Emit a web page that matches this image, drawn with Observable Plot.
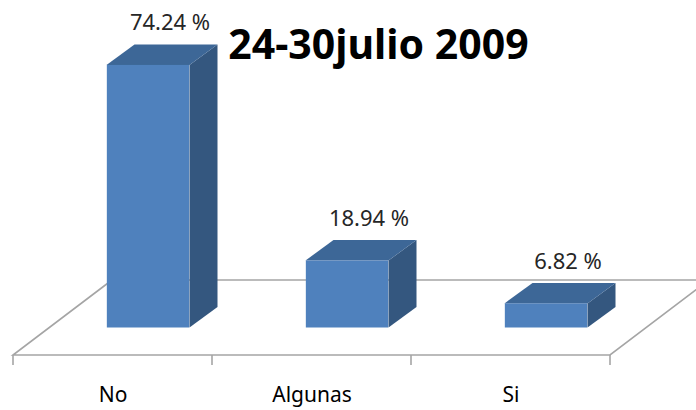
<!DOCTYPE html>
<html><head><meta charset="utf-8">
<script src="https://cdn.jsdelivr.net/npm/d3@7"></script>
<script src="https://cdn.jsdelivr.net/npm/@observablehq/plot@0.6"></script>
<style>body{margin:0;background:#fff}</style>
</head><body><div id="chart"></div>
<script>
const categories = ["No", "Algunas", "Si"];
const values = [74.24, 18.94, 6.82];
const valueLabels = ["74.24 %", "18.94 %", "6.82 %"];
const title = "24-30julio 2009";

const data = categories.map((c, i) => ({cat: c, value: values[i], label: valueLabels[i]}));

const FRONT = "#4F81BD", TOP = "#3D6797", SIDE = "#34577F", FLOOR = "#A5A5A5";
const barW = 83, barDx = 35.5, depthX = 28, depthY = 20.5;
const floorDrop = 27.5, floorDX = 99, floorDY = 75;
const FONT = "Noto Sans";

function bw(x) { return typeof x.bandwidth === "function" ? x.bandwidth() : x.bandwidth; }

function floorMark(index, scales) {
  const x = scales.x, y = scales.y, b = bw(x);
  const x0 = x(categories[0]);
  const x1 = x(categories[categories.length - 1]) + b;
  const yf = y(0) + floorDrop;
  const g = d3.create("svg:g").attr("fill", "none").attr("stroke", FLOOR).attr("stroke-width", 1.6);
  g.append("path").attr("d",
    `M${x0 + floorDX},${yf - floorDY}L${x0},${yf}L${x1},${yf}L${x1 + floorDX},${yf - floorDY}` +
    `M${x0 + floorDX},${yf - floorDY}L${x1 + floorDX},${yf - floorDY}`);
  const bounds = categories.map(c => x(c)).concat([x1]);
  for (const bx of bounds) g.append("line").attr("x1", bx).attr("x2", bx).attr("y1", yf).attr("y2", yf + 10);
  return g.node();
}

function depthMark(index, scales) {
  const x = scales.x, y = scales.y, b = bw(x);
  const g = d3.create("svg:g");
  for (const d of data) {
    const l = x(d.cat) + b / 2 + barDx - barW / 2, r = l + barW, t = y(d.value), bt = y(0);
    g.append("path").attr("fill", SIDE)
      .attr("d", `M${r},${bt}L${r + depthX},${bt - depthY}L${r + depthX},${t - depthY}L${r},${t}Z`);
    g.append("path").attr("fill", TOP)
      .attr("d", `M${l},${t}L${l + depthX},${t - depthY}L${r + depthX},${t - depthY}L${r},${t}Z`);
  }
  return g.node();
}

const bandW = (611 - 12) / categories.length;
const inset = (bandW - barW) / 2;

const chart = Plot.plot({
  width: 696,
  height: 410,
  marginLeft: 12,
  marginRight: 85,
  marginTop: 0,
  marginBottom: 82.5,
  style: {fontFamily: FONT, background: "#fff"},
  x: {type: "band", domain: categories, padding: 0, axis: null},
  y: {domain: [0, 92.6], axis: null},
  marks: [
    floorMark,
    depthMark,
    Plot.barY(data, {x: "cat", y: "value", fill: FRONT, insetLeft: inset, insetRight: inset, dx: barDx}),
    Plot.text(data, {x: "cat", y: "value", text: "label", dx: 57, dy: -35, lineAnchor: "bottom",
      fontSize: 22, fill: "#262626", fontFamily: FONT}),
    Plot.text(categories, {x: d => d, text: d => d, frameAnchor: "bottom", dy: 73.5, lineAnchor: "bottom",
      fontSize: 21, fill: "#000", fontFamily: FONT}),
    Plot.text([title], {text: d => d, frameAnchor: "top", dx: 66.5, dy: 58, lineAnchor: "bottom",
      fontSize: 41, fontWeight: "bold", fill: "#000", fontFamily: FONT})
  ]
});
document.getElementById("chart").appendChild(chart);
</script>
</body></html>
